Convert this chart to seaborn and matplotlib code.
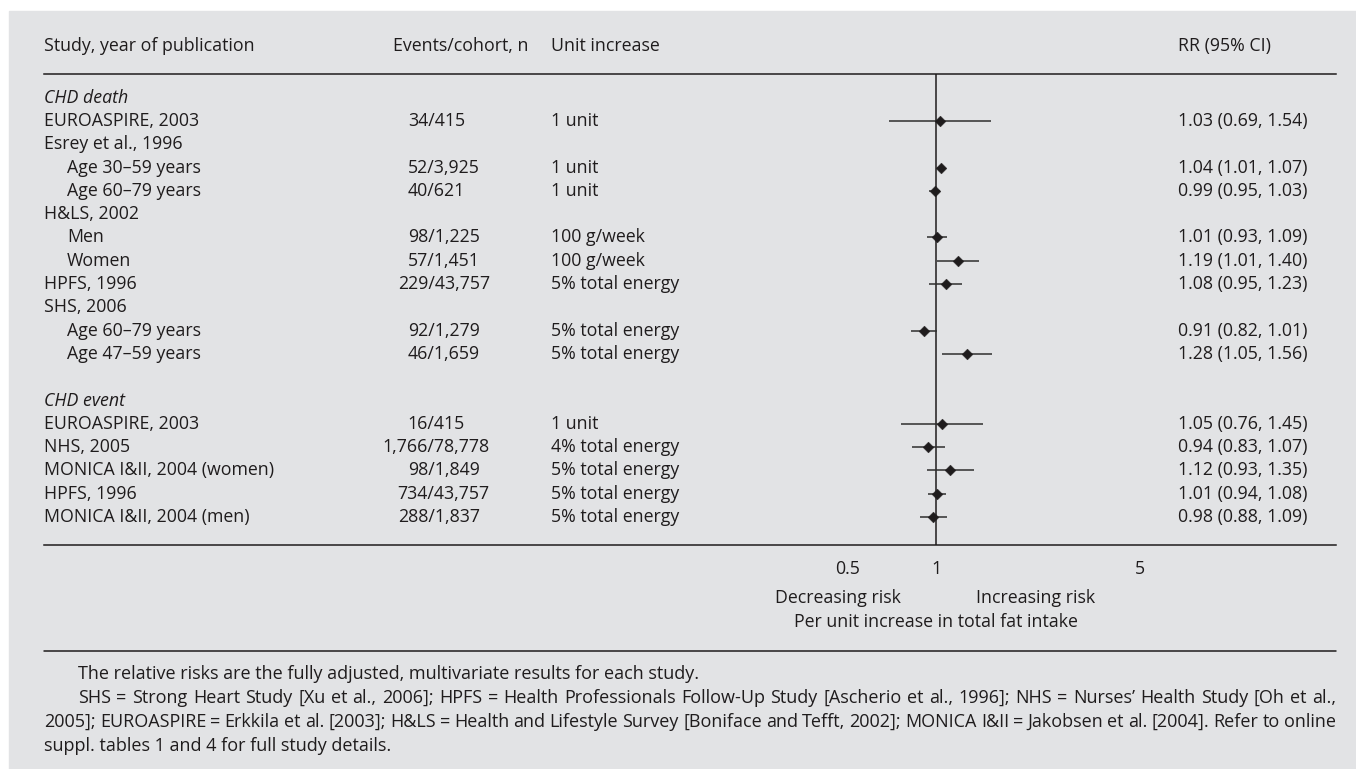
import numpy as np
import pandas as pd
import seaborn as sns
import matplotlib.pyplot as plt
from matplotlib import transforms
from matplotlib.patches import Rectangle
from matplotlib.lines import Line2D
from matplotlib.ticker import NullLocator

# Data
labels = ["CHD death", "EUROASPIRE, 2003", "Esrey et al., 1996", "Age 30–59 years", "Age 60–79 years",
          "H&LS, 2002", "Men", "Women", "HPFS, 1996", "SHS, 2006", "Age 60–79 years", "Age 47–59 years",
          "", "CHD event", "EUROASPIRE, 2003", "NHS, 2005", "MONICA I&II, 2004 (women)", "HPFS, 1996",
          "MONICA I&II, 2004 (men)"]
sub_rows = ["Age 30–59 years", "Age 60–79 years", "Age 47–59 years", "Men", "Women"]
section_rows = ["CHD death", "CHD event"]
events = ["", "34/415", "", "52/3,925", "40/621", "", "98/1,225", "57/1,451", "229/43,757", "",
          "92/1,279", "46/1,659", "", "", "16/415", "1,766/78,778", "98/1,849", "734/43,757", "288/1,837"]
units = ["", "1 unit", "", "1 unit", "1 unit", "", "100 g/week", "100 g/week", "5% total energy", "",
         "5% total energy", "5% total energy", "", "", "1 unit", "4% total energy", "5% total energy",
         "5% total energy", "5% total energy"]
rr = [None, 1.03, None, 1.04, 0.99, None, 1.01, 1.19, 1.08, None, 0.91, 1.28, None, None,
      1.05, 0.94, 1.12, 1.01, 0.98]
lo = [None, 0.69, None, 1.01, 0.95, None, 0.93, 1.01, 0.95, None, 0.82, 1.05, None, None,
      0.76, 0.83, 0.93, 0.94, 0.88]
hi = [None, 1.54, None, 1.07, 1.03, None, 1.09, 1.40, 1.23, None, 1.01, 1.56, None, None,
      1.45, 1.07, 1.35, 1.08, 1.09]
xticks = [0.5, 1, 5]
xticklabels = ["0.5", "1", "5"]

footnotes = [
    "The relative risks are the fully adjusted, multivariate results for each study.",
    "SHS = Strong Heart Study [Xu et al., 2006]; HPFS = Health Professionals Follow-Up Study "
    "[Ascherio et al., 1996]; NHS = Nurses’ Health Study [Oh et al.,",
    "2005]; EUROASPIRE = Erkkila et al. [2003]; H&LS = Health and Lifestyle Survey "
    "[Boniface and Tefft, 2002]; MONICA I&II = Jakobsen et al. [2004]. Refer to online",
    "suppl. tables 1 and 4 for full study details.",
]

df = pd.DataFrame({"row": range(len(labels)), "rr": rr, "lo": lo, "hi": hi}).dropna()

sns.set_style("white")
plt.rcParams["font.family"] = ["Open Sans", "DejaVu Sans"]

INK = "#1f1c1d"
BG = "#e2e3e5"
FS = 12.8
FS2 = 13
W, H = 1356, 769

fig = plt.figure(figsize=(W / 100, H / 100), dpi=100)
fig.patches.append(Rectangle((9 / W, 0), 1 - 9 / W, 1 - 11 / H, transform=fig.transFigure,
                             color=BG, zorder=-10))
renderer = fig.canvas.get_renderer()

# plot area: x=1 sits at px 936, 127 px per log unit
ax = fig.add_axes([44 / W, 1 - 545 / H, 1292 / W, (545 - 73.5) / H])
ax.set_facecolor("none")
ax.set_xscale("log")
ax.set_xlim(np.exp((44 - 936) / 127), np.exp((1336 - 936) / 127))
ax.set_ylim(19.2, -1.04)

ax.axvline(1, color=INK, lw=1.1, zorder=2)
ax.hlines(df["row"], df["lo"], df["hi"], color="#2e2e2e", lw=1.1, zorder=2)
sns.scatterplot(data=df, x="rr", y="row", marker="D", s=30, color=INK, edgecolor=INK,
                linewidth=0.3, legend=False, zorder=3, ax=ax)

ax.set_xlabel("")
ax.set_ylabel("")
ax.set_yticks([])
ax.set_xticks(xticks)
ax.set_xticklabels(xticklabels)
ax.xaxis.set_minor_locator(NullLocator())
ax.tick_params(axis="x", direction="in", length=5, width=1.1, color=INK, pad=11,
               labelsize=FS, labelcolor=INK)
for s in ["left", "right"]:
    ax.spines[s].set_visible(False)
for s in ["top", "bottom"]:
    ax.spines[s].set_linewidth(1.1)
    ax.spines[s].set_color(INK)


def px(x, y):
    return x / W, 1 - y / H


# column headers
for x, txt in [(44, "Study, year of publication"), (393, "Events/cohort, n"),
               (551, "Unit increase"), (1178, "RR (95% CI)")]:
    fig.text(*px(x, 46), txt, fontsize=FS, color=INK, va="center")

# table rows, tied to the data rows of the plot; events aligned on the slash
tr = transforms.blended_transform_factory(fig.transFigure, ax.transData)
slash_x = 428
for i, lab in enumerate(labels):
    x0 = 67 if lab in sub_rows else 44
    style = "italic" if lab in section_rows else "normal"
    ax.text(x0 / W, i, lab, transform=tr, fontsize=FS, color=INK, va="center", style=style)
    if events[i]:
        probe = fig.text(0, 0, events[i].split("/")[0], fontsize=FS)
        lead = probe.get_window_extent(renderer).width
        probe.remove()
        ax.text((slash_x - lead) / W, i, events[i], transform=tr, fontsize=FS, color=INK,
                va="center")
    ax.text(551 / W, i, units[i], transform=tr, fontsize=FS, color=INK, va="center")
    if rr[i] is not None:
        ax.text(1178 / W, i, f"{rr[i]:.2f} ({lo[i]:.2f}, {hi[i]:.2f})", transform=tr,
                fontsize=FS, color=INK, va="center")

fig.text(*px(838, 598), "Decreasing risk", fontsize=FS, color=INK, ha="center", va="center")
fig.text(*px(1036, 598), "Increasing risk", fontsize=FS, color=INK, ha="center", va="center")
fig.text(*px(936, 622), "Per unit increase in total fat intake", fontsize=FS, color=INK,
         ha="center", va="center")

fig.add_artist(Line2D([44 / W, 1336 / W], [1 - 651 / H] * 2, color=INK, lw=1.1))


# footnote, lines 2 and 3 justified to the right edge
def put_line(text, x0, y, right=None):
    if right is None:
        fig.text(*px(x0, y), text, fontsize=FS2, color=INK, va="center")
        return
    words = text.split(" ")
    arts = [fig.text(*px(0, y), w, fontsize=FS2, color=INK, va="center") for w in words]
    widths = [a.get_window_extent(renderer).width for a in arts]
    gap = (right - x0 - sum(widths)) / (len(words) - 1)
    x = x0
    for a, w in zip(arts, widths):
        a.set_x(x / W)
        x += w + gap


put_line(footnotes[0], 78, 674)
put_line(footnotes[1], 78, 698, right=1336)
put_line(footnotes[2], 44, 722, right=1336)
put_line(footnotes[3], 44, 746)

fig.savefig("out.png", dpi=100)
